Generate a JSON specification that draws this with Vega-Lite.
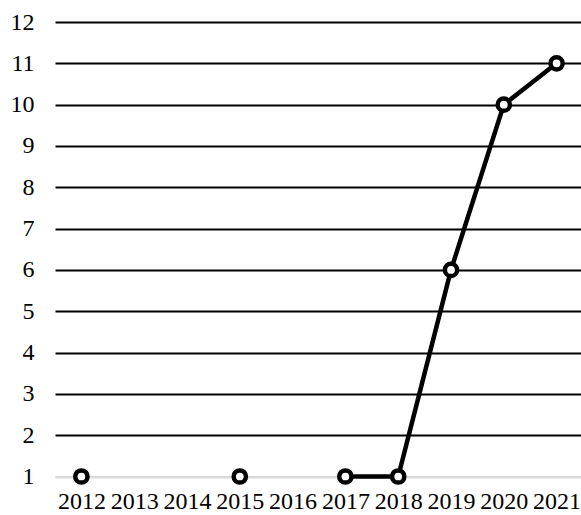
{
  "$schema": "https://vega.github.io/schema/vega-lite/v6.json",
  "width": 528,
  "height": 454.5,
  "autosize": {"type": "none"},
  "padding": {"left": 55, "top": 22, "right": 0, "bottom": 38.5},
  "background": "white",
  "config": {
    "view": {"stroke": null},
    "font": "Liberation Serif"
  },
  "data": {
    "values": [
      {"year": "2012", "value": 1},
      {"year": "2013", "value": null},
      {"year": "2014", "value": null},
      {"year": "2015", "value": 1},
      {"year": "2016", "value": null},
      {"year": "2017", "value": 1},
      {"year": "2018", "value": 1},
      {"year": "2019", "value": 6},
      {"year": "2020", "value": 10},
      {"year": "2021", "value": 11}
    ]
  },
  "encoding": {
    "x": {
      "field": "year",
      "type": "ordinal",
      "sort": null,
      "scale": {"type": "point", "padding": 0.5},
      "axis": {
        "title": null,
        "labelAngle": 0,
        "labelFont": "Liberation Serif",
        "labelFontSize": 24,
        "labelColor": "#000000",
        "labelPadding": 13,
        "labelOverlap": false,
        "labelBound": false,
        "ticks": false,
        "domainColor": "#d9d9d9",
        "domainWidth": 2,
        "grid": false
      }
    },
    "y": {
      "field": "value",
      "type": "quantitative",
      "scale": {"domain": [1, 12], "nice": false, "zero": false},
      "axis": {
        "title": null,
        "values": [1, 2, 3, 4, 5, 6, 7, 8, 9, 10, 11, 12],
        "labelFont": "Liberation Serif",
        "labelFontSize": 24,
        "labelColor": "#000000",
        "labelPadding": 21,
        "labelOverlap": false,
        "ticks": false,
        "domain": false,
        "grid": true,
        "gridColor": {"condition": {"test": "datum.value === 1", "value": "#d9d9d9"}, "value": "#000000"},
        "gridWidth": 2,
        "gridOpacity": 1
      }
    }
  },
  "layer": [
    {
      "mark": {"type": "line", "color": "#000000", "strokeWidth": 4.5, "invalid": "break-paths-show-domains"}
    },
    {
      "mark": {"type": "point", "shape": "circle", "filled": true, "fill": "#ffffff", "stroke": "#000000", "strokeWidth": 4.5, "size": 150, "opacity": 1}
    }
  ]
}
